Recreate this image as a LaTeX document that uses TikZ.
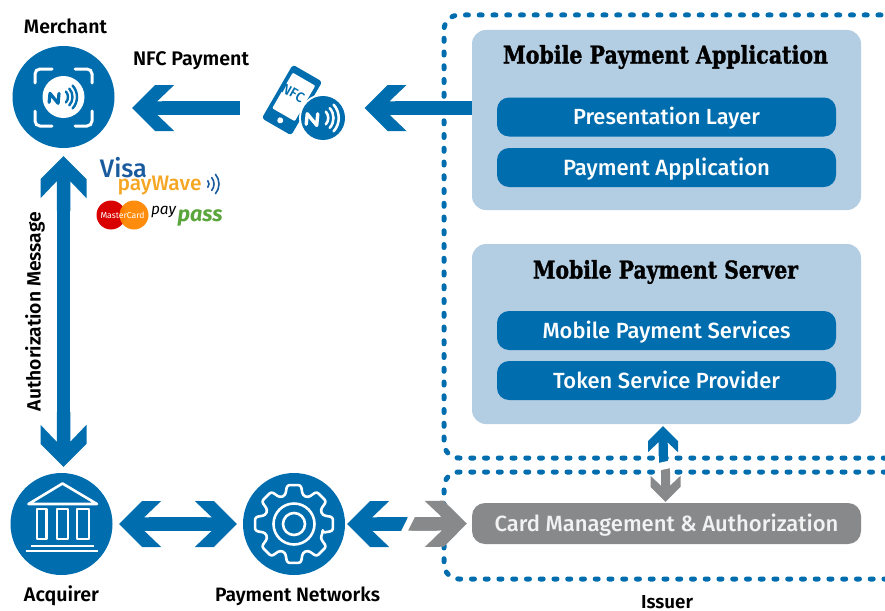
\documentclass[tikz,border=0pt]{standalone}
\usepackage{fontspec}
\usepackage{graphicx}
\setmainfont{Fira Sans}[BoldFont={Fira Sans Medium},ItalicFont={Fira Sans Italic},BoldItalicFont={Fira Sans Bold Italic}]
\newfontfamily\capfont{Fira Sans}[BoldFont={Fira Sans SemiBold}]
\newfontfamily\slab{DejaVu Serif}[BoldFeatures={FakeBold=1.6}]
\definecolor{pblue}{HTML}{006DAE}
\definecolor{plight}{HTML}{B3CDE3}
\definecolor{pgrey}{HTML}{88898B}
\newcommand{\fit}[2]{\resizebox{#1pt}{!}{\fontsize{20}{24}\selectfont\bfseries #2}}
\newcommand{\fitcap}[2]{\resizebox{#1pt}{!}{\fontsize{20}{24}\selectfont\capfont\bfseries #2}}
\newcommand{\fitslab}[3]{\resizebox{#1pt}{#2pt}{\fontsize{24}{28}\selectfont\slab\bfseries #3}}
\pgfdeclarearrow{name=ChevBig,
  setup code={\pgfarrowssettipend{0pt}\pgfarrowssetbackend{-42pt}\pgfarrowssetlineend{-30pt}
    \pgfarrowshullpoint{0pt}{0pt}\pgfarrowshullpoint{-42pt}{23pt}\pgfarrowshullpoint{-42pt}{-23pt}},
  drawing code={\pgfpathmoveto{\pgfpoint{0pt}{0pt}}
    \pgfpathlineto{\pgfpoint{-23pt}{23pt}}\pgfpathlineto{\pgfpoint{-42pt}{23pt}}
    \pgfpathlineto{\pgfpoint{-25pt}{6.75pt}}\pgfpathlineto{\pgfpoint{-55pt}{6.75pt}}
    \pgfpathlineto{\pgfpoint{-55pt}{-6.75pt}}\pgfpathlineto{\pgfpoint{-25pt}{-6.75pt}}
    \pgfpathlineto{\pgfpoint{-42pt}{-23pt}}\pgfpathlineto{\pgfpoint{-23pt}{-23pt}}
    \pgfpathclose\pgfusepathqfill}}
\pgfdeclarearrow{name=ChevSmall,
  setup code={\pgfarrowssettipend{0pt}\pgfarrowssetbackend{-26pt}\pgfarrowssetlineend{-18pt}
    \pgfarrowshullpoint{0pt}{0pt}\pgfarrowshullpoint{-26pt}{15pt}\pgfarrowshullpoint{-26pt}{-15pt}},
  drawing code={\pgfpathmoveto{\pgfpoint{0pt}{0pt}}
    \pgfpathlineto{\pgfpoint{-15pt}{15pt}}\pgfpathlineto{\pgfpoint{-26pt}{15pt}}
    \pgfpathlineto{\pgfpoint{-16pt}{4.5pt}}\pgfpathlineto{\pgfpoint{-30pt}{4.5pt}}
    \pgfpathlineto{\pgfpoint{-30pt}{-4.5pt}}\pgfpathlineto{\pgfpoint{-16pt}{-4.5pt}}
    \pgfpathlineto{\pgfpoint{-26pt}{-15pt}}\pgfpathlineto{\pgfpoint{-15pt}{-15pt}}
    \pgfpathclose\pgfusepathqfill}}
% NFC symbol: #1 x, #2 y, #3 scale, #4 colour, #5 line width
\newcommand{\nfcsym}[5]{%
  \begin{scope}[shift={(#1,#2)},scale=#3]
    \draw[color=#4,line width=#5,line cap=round,line join=round]
      (-16pt,-6pt) -- (-15pt,4pt) -- (-6pt,-7pt) -- (-5pt,4pt);
    \foreach \r in {9,14,19}{
      \draw[color=#4,line width=#5*0.75,line cap=round]
        (-42:\r pt) ++(-4pt,0pt) arc[start angle=-42,end angle=42,radius=\r pt];
    }
  \end{scope}}
\tikzset{
  flow/.style={color=pblue,line width=13.5pt,line cap=butt},
  flowsmall/.style={color=pblue,line width=9pt,line cap=butt},
  dotted box/.style={color=pblue,line width=5pt,line cap=round,dash pattern=on 3pt off 10.75pt,rounded corners=15pt},
  panel/.style={fill=plight,rounded corners=14pt,minimum width=389pt,minimum height=180pt,inner sep=0pt},
  pill/.style={fill=pblue,text=white,rounded corners=12pt,minimum width=339pt,minimum height=39pt,inner sep=0pt,text height=16pt,text depth=1pt},
  disc/.style={circle,fill=pblue,minimum size=102pt,inner sep=0pt},
  caption/.style={anchor=base,inner sep=0pt,text=black},
  icon/.style={color=white,line width=2.6pt,line join=round},
}
\begin{document}
\begin{tikzpicture}[x=1pt,y=-1pt]
\useasboundingbox (0,0) rectangle (885,610);
\clip (0,0) rectangle (885,610);

% issuer dotted frames
\draw[dotted box] (900,458) -- (444,458) -- (444,15) -- (900,15);
\draw[dotted box] (900,472) -- (444,472) -- (444,579) -- (900,579);

% panels
\node[panel] (app) at (666.5,120) {};
\node[panel] (server) at (666.5,334) {};
\node[caption] (apptitle) at (665.5,63.5) {\fitslab{325}{18.5}{Mobile Payment Application}};
\node[caption] (servertitle) at (665.5,278.5) {\fitslab{265}{18.5}{Mobile Payment Server}};
\node[pill] (pres) at (666.5,117) {\fit{187}{Presentation Layer}};
\node[pill] (payapp) at (666.5,167.5) {\fit{207}{Payment Application}};
\node[pill] (mps) at (666.5,330.5) {\fit{248}{Mobile Payment Services}};
\node[pill] (tsp) at (666.5,380.5) {\fit{227}{Token Service Provider}};
\node[pill,fill=pgrey,text=white!95!black,minimum width=389pt,minimum height=41pt,rounded corners=13pt] (card) at (666.5,523.5) {\fit{344}{Card Management \& Authorization}};

% discs
\node[disc] (merchant) at (63.5,97) {};
\node[disc] (acquirer) at (61.5,524) {};
\node[disc] (net) at (294,524) {};
\node[minimum width=124.3pt,minimum height=76pt,inner sep=0pt] (phone) at (302.15,108) {};

% connectors
\draw[flow,-{ChevBig},shorten >=17.5pt] (phone.west) -- (merchant.east |- phone.west);
\draw[flow,-{ChevBig}] (app.west |- phone.east) -- (phone.east);
\draw[flow,{ChevBig}-{ChevBig},shorten <=8pt,shorten >=6pt] (merchant.south) -- (merchant.south |- acquirer.north);
\draw[flow,{ChevBig}-{ChevBig},shorten <=6.5pt,shorten >=6pt] (acquirer.east) -- (net.west);
\coordinate (hj) at (406.5,524);
\draw[flow,color=pgrey,-{ChevBig},shorten >=5pt] (hj) -- (card.west);
\draw[flow,-{ChevBig},shorten >=2pt] (hj) -- (net.east);
\draw[white,line width=6pt] (413,514) -- (403,534);
\coordinate (vb) at (663,466);
\coordinate (vg) at (665.5,464);
\draw[flowsmall,color=pgrey,-{ChevSmall},shorten >=1pt] (vg) -- (vg |- card.north);
\draw[flowsmall,-{ChevSmall},shorten >=2pt] (vb) -- (vb |- server.south);
\draw[white,line width=7.5pt] (655,467.5) -- (674,463.5);

% merchant icon
\fill[white] (63.5,97) circle[radius=21pt];
\nfcsym{63.5}{97}{0.9}{pblue}{3.2pt}
\begin{scope}[color=white,line width=3pt,rounded corners=5pt,line cap=round]
  \draw (35,83) -- (35,69) -- (52,69);
  \draw (75,69) -- (92,69) -- (92,83);
  \draw (92,111) -- (92,126) -- (75,126);
  \draw (52,126) -- (35,126) -- (35,111);
\end{scope}

% phone icon
\begin{scope}[shift={(292,100)},rotate=-30]
  \fill[pblue,rounded corners=3pt] (-17pt,-31pt) rectangle (17pt,31pt);
  \fill[white,rounded corners=1pt] (-13pt,-17pt) rectangle (13pt,24pt);
  \fill[white] (0pt,-23.5pt) circle[radius=3pt];
\end{scope}
\node[rotate=-30,text=pblue,inner sep=0pt] (nfctext) at (293,93) {\fit{24}{NFC}};
\fill[white] (323,118) circle[radius=24pt];
\fill[pblue] (323,118) circle[radius=22pt];
\nfcsym{323}{118}{1.05}{white}{3.4pt}

% acquirer icon
\begin{scope}[icon]
  \draw (28.5,504) -- (62.5,483.5) -- (97,504) -- cycle;
  \draw (37,509) rectangle (46.5,539);
  \draw (57,509) rectangle (68,539);
  \draw (77,509) rectangle (89,539);
  \draw (31,546) -- (94,546);
  \draw (26,551) -- (98,551);
\end{scope}

% gear icon
\begin{scope}[shift={(294,524)},icon]
  \draw[rounded corners=2.5pt] (-17:30pt)
    \foreach \a in {0,45,...,315}{ -- (\a-17:30pt) -- (\a-10:39.5pt) -- (\a+10:39.5pt) -- (\a+17:30pt) } -- cycle;
  \draw (0pt,0pt) circle[radius=20.5pt];
  \draw (0pt,0pt) circle[radius=11pt];
\end{scope}

% captions
\node[caption] (lm) at (65.5,34) {\fitcap{83}{Merchant}};
\node[caption] (ln) at (191,65.5) {\fitcap{116}{NFC Payment}};
\node[caption] (la) at (61.5,601.5) {\fitcap{75}{Acquirer}};
\node[caption] (lp) at (297.5,601.5) {\fitcap{165}{Payment Networks}};
\node[caption] (li) at (667,608.5) {\fitcap{52}{Issuer}};
\node[caption,rotate=90] (lauth) at (40.5,311.5) {\fitcap{199}{Authorization Message}};

% scheme logos
\node[caption,text={rgb,255:red,26;green,90;blue,158}] (visa) at (123.5,177) {\fit{47}{Visa}};
\node[caption,text={rgb,255:red,245;green,166;blue,35}] (paywave) at (159.5,190) {\fit{84}{payWave}};
\begin{scope}[shift={(204,184)},color={rgb,255:red,26;green,90;blue,158},line width=1.6pt,line cap=round]
  \foreach \r in {5,10,15}{\draw (-40:\r pt) arc[start angle=-40,end angle=40,radius=\r pt];}
\end{scope}
\fill[red!85!black] (111,215) circle[radius=14.5pt];
\fill[orange!95!yellow,opacity=.95] (134,215) circle[radius=14.5pt];
\node[inner sep=0pt,text=white] (mc) at (122.5,215) {\resizebox{44pt}{!}{\fontsize{20}{24}\selectfont MasterCard}};
\node[caption] (pay) at (163.5,214) {\resizebox{25pt}{!}{\fontsize{20}{24}\selectfont\itshape pay}};
\node[caption,text={rgb,255:red,90;green,165;blue,60}] (pass) at (200,221) {\fit{45}{\itshape pass}};
\end{tikzpicture}
\end{document}
